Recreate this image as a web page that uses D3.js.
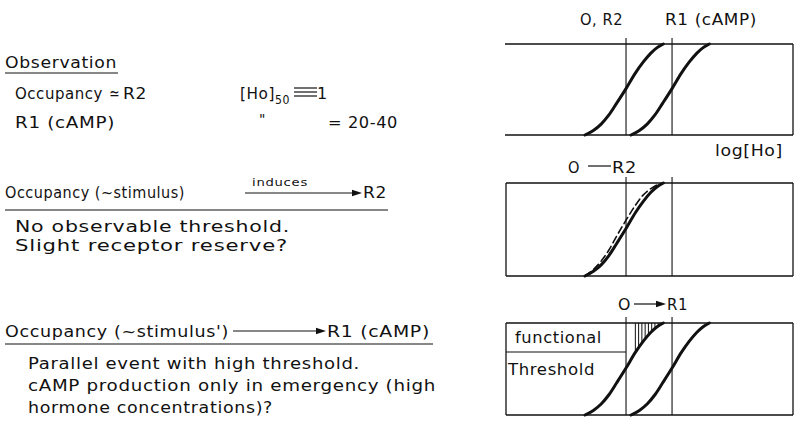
<!DOCTYPE html>
<html>
<head>
<meta charset="utf-8">
<script src="https://cdn.jsdelivr.net/npm/d3@7"></script>
<style>
  body { margin: 0; background: #fff; }
  svg { display: block; }
  text { font-family: "DejaVu Sans", sans-serif; fill: #111; letter-spacing: 0.6px; }
</style>
</head>
<body>
<svg id="chart" width="798" height="423"></svg>
<script>
// log[Ho] of the half-maximal points for each response
const halfMaxLog = [0, 1.48];            // R2 / occupancy at [Ho]50 = 1, R1 (cAMP) at ~30
const halfMaxLabels = ["O, R2", "R1 (cAMP)"];

// dose-response curve of occupancy / R2 (log[Ho] vs fractional response)
const logR2  = [-1.32, -1.05, -0.8, -0.55, -0.3, 0, 0.3, 0.55, 0.8, 1.0, 1.2];
const respR2 = [0, 0.05, 0.12, 0.22, 0.35, 0.51, 0.68, 0.8, 0.9, 0.96, 1.0];

// dose-response curve of R1 (cAMP)
const logR1  = [0.16, 0.43, 0.68, 0.93, 1.18, 1.48, 1.78, 2.03, 2.28, 2.48, 2.68];
const respR1 = [0, 0.05, 0.12, 0.22, 0.35, 0.51, 0.68, 0.8, 0.9, 0.96, 1.0];

// occupancy curve (dashed) in the middle panel
const logOcc  = [-1.32, -1.05, -0.8, -0.55, -0.3, 0, 0.3, 0.55, 0.8, 1.0, 1.2];
const respOcc = [0, 0.07, 0.16, 0.28, 0.43, 0.6, 0.76, 0.87, 0.94, 0.98, 1.0];

// functional threshold of the R1 response (fraction of maximum)
const thresholdLevel = 0.685;

const svg = d3.select("#chart");
const black = "#111";

const x = d3.scaleLinear().domain([-3.86, 5.37]).range([506, 793]);

const panels = [
  { top: 44,  bottom: 135, leftEdge: false },
  { top: 183, bottom: 276, leftEdge: true },
  { top: 323, bottom: 415, leftEdge: true }
];
panels.forEach(p => { p.y = d3.scaleLinear().domain([0, 1]).range([p.bottom, p.top]); });

const zip = (xs, ys) => xs.map((v, i) => [v, ys[i]]);

function line(p) {
  return d3.line().x(d => x(d[0])).y(d => p.y(d[1])).curve(d3.curveMonotoneX);
}

function frame(p) {
  const g = svg.append("g").attr("fill", "none").attr("stroke", black).attr("stroke-width", 1.3);
  g.append("line").attr("x1", x.range()[0] - (p.leftEdge ? 0 : 1)).attr("x2", x.range()[1])
    .attr("y1", p.top).attr("y2", p.top);
  g.append("line").attr("x1", x.range()[0] - (p.leftEdge ? 0 : 1)).attr("x2", x.range()[1])
    .attr("y1", p.bottom).attr("y2", p.bottom);
  g.append("line").attr("x1", x.range()[1]).attr("x2", x.range()[1])
    .attr("y1", p.top).attr("y2", p.bottom);
  if (p.leftEdge) {
    g.append("line").attr("x1", x.range()[0]).attr("x2", x.range()[0])
      .attr("y1", p.top).attr("y2", p.bottom);
  }
  halfMaxLog.forEach(v => {
    g.append("line").attr("stroke-width", 1.1)
      .attr("x1", x(v)).attr("x2", x(v))
      .attr("y1", p.top - 6).attr("y2", p.bottom);
  });
}

function curve(p, xs, ys, dashed) {
  svg.append("path")
    .datum(zip(xs, ys))
    .attr("d", line(p))
    .attr("fill", "none")
    .attr("stroke", black)
    .attr("stroke-width", dashed ? 1.6 : 3)
    .attr("stroke-linecap", "round")
    .attr("stroke-dasharray", dashed ? "7,4" : null);
}

function txt(xp, yp, s, opts = {}) {
  const t = svg.append("text")
    .attr("x", xp).attr("y", yp)
    .attr("font-size", opts.size || 16)
    .attr("text-anchor", opts.anchor || "start")
    .text(s);
  if (opts.width) t.attr("textLength", opts.width).attr("lengthAdjust", opts.adjust || "spacingAndGlyphs");
  return t;
}

function arrow(x1, x2, yp, head = true) {
  svg.append("line").attr("x1", x1).attr("x2", head ? x2 - 6 : x2)
    .attr("y1", yp).attr("y2", yp).attr("stroke", black).attr("stroke-width", 1.2);
  if (head) {
    svg.append("path")
      .attr("d", `M${x2},${yp} L${x2 - 10},${yp - 3.2} L${x2 - 10},${yp + 3.2} Z`)
      .attr("fill", black);
  }
}

function underline(x1, x2, yp) {
  svg.append("line").attr("x1", x1).attr("x2", x2).attr("y1", yp).attr("y2", yp)
    .attr("stroke", black).attr("stroke-width", 1.2);
}

// ---- panel 1: both responses ----
const p1 = panels[0];
frame(p1);
curve(p1, logR2, respR2);
curve(p1, logR1, respR1);
txt(580, 25, halfMaxLabels[0], { width: 43 });
txt(665, 25, halfMaxLabels[1], { width: 92 });
txt(715, 156, "log[Ho]", { width: 68 });

// ---- panel 2: occupancy vs R2 ----
const p2 = panels[1];
frame(p2);
curve(p2, logOcc, respOcc, true);
curve(p2, logR2, respR2);
txt(568, 173, "O", { width: 12 });
svg.append("line").attr("x1", 588).attr("x2", 611).attr("y1", 166).attr("y2", 166)
  .attr("stroke", black).attr("stroke-width", 1.2);
txt(612, 173, "R2", { width: 25 });

// ---- panel 3: occupancy vs R1 with functional threshold ----
const p3 = panels[2];
const thrY = p3.y(thresholdLevel);

// hatched region between the occupancy curve and full response, above threshold
const clipArea = d3.area()
  .x(d => x(d[0]))
  .y0(p3.top)
  .y1(d => p3.y(d[1]))
  .curve(d3.curveMonotoneX);
svg.append("clipPath").attr("id", "aboveCurve")
  .append("path").datum(zip(logR2, respR2)).attr("d", clipArea);
svg.append("g").attr("clip-path", "url(#aboveCurve)")
  .selectAll("line")
  .data(d3.range(0.3, 1.2, 0.105))
  .join("line")
  .attr("x1", d => x(d)).attr("x2", d => x(d))
  .attr("y1", p3.top).attr("y2", thrY)
  .attr("stroke", black).attr("stroke-width", 1);

frame(p3);
svg.append("line").attr("x1", x.range()[0]).attr("x2", x(halfMaxLog[0]))
  .attr("y1", thrY).attr("y2", thrY).attr("stroke", black).attr("stroke-width", 1.1);
curve(p3, logR2, respR2);
curve(p3, logR1, respR1);
txt(618, 310, "O", { width: 13 });
arrow(634, 666, 304);
txt(667, 310, "R1", { width: 21 });
txt(515, 343, "functional", { width: 87 });
txt(508, 375, "Threshold", { width: 87 });

// ---- explanatory text ----
txt(5, 68, "Observation", { width: 112 });
underline(5, 118, 73);

txt(15, 99, "Occupancy", { width: 88 });
txt(109, 99, "\u2243", { width: 11 });
txt(123, 99, "R2", { width: 24 });
txt(240, 99, "[Ho]", { width: 35 });
txt(275, 104, "50", { width: 15, size: 12 });
// identity sign drawn as three strokes
[0, 4, 8].forEach(d => underline(294, 317, 88 + d));
txt(317, 99, "1");

txt(15, 128, "R1 (cAMP)", { width: 100 });
txt(259, 124, "\"", { width: 7, size: 14 });
txt(328, 128, "= 20-40", { width: 70 });

txt(5, 198, "Occupancy (~stimulus)", { width: 180 });
txt(252, 186, "induces", { width: 56, size: 11 });
arrow(245, 362, 193);
txt(363, 198, "R2", { width: 24 });
underline(5, 388, 210);

txt(15, 232, "No observable threshold.", { width: 275 });
txt(15, 251, "Slight receptor reserve?", { width: 273 });

txt(5, 337, "Occupancy (~stimulus')", { width: 224 });
arrow(233, 326, 331);
txt(327, 337, "R1 (cAMP)", { width: 103 });
underline(5, 433, 344);

txt(28, 369, "Parallel event with high threshold.", { width: 332 });
txt(28, 391, "cAMP production only in emergency (high", { width: 408 });
txt(28, 413, "hormone concentrations)?", { width: 245 });
</script>
</body>
</html>
